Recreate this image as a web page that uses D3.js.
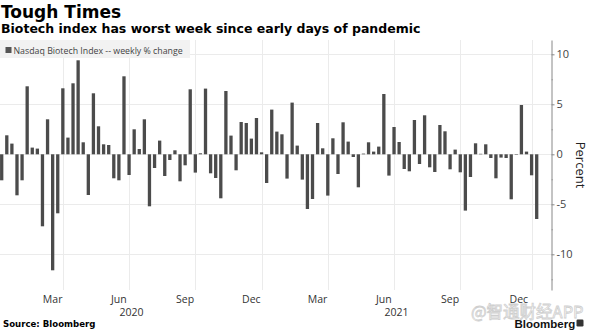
<!DOCTYPE html>
<html><head><meta charset="utf-8">
<script src="https://cdn.jsdelivr.net/npm/d3@7"></script>
<style>html,body{margin:0;padding:0;background:#fff;overflow:hidden}</style>
</head><body><svg id="c" width="589" height="331"></svg>
<script>
const title = "Tough Times";
const subtitle = "Biotech index has worst week since early days of pandemic";
const seriesName = "Nasdaq Biotech Index -- weekly % change";
// weekly % change, week ending Jan 10 2020 ... Jan 14 2022
const values = [
-2.6, 1.9, 1.07, -4.1, -2.6, 6.8, 0.67, 0.57, -7.2, 3.5,
-11.6, -5.9, 6.6, 1.67, 7.1, 9.4, 1.2, -4.07, 6.1, 2.8,
1.0, 0.93, -2.4, -2.6, 7.8, -2.07, 2.5, 0.53, 3.5, -5.2,
-1.37, 1.37, -2.17, -0.57, 0.4, -2.7, -1.1, 6.5, -1.83, 0.1,
6.57, -1.9, -2.37, -4.4, 6.33, 1.87, -1.6, 3.23, 3.13, 1.57,
3.63, 0.2, -2.87, 4.47, 2.27, 2.0, -2.43, 5.17, 0.87, -2.53,
-5.47, -4.47, 3.13, 0.6, -4.13, 1.6, -1.97, 3.2, 1.27, -0.27,
-3.3, 0.07, 1.2, 0.27, 0.77, 6.03, -2.13, 2.73, 1.23, -1.47,
-1.7, 3.43, -0.97, 3.9, -1.3, -1.77, 2.93, 2.3, -1.5, 0.47,
-1.8, -5.63, -2.27, 1.1, 0.05, 1.0, -0.37, -2.4, -0.33, -0.37,
-4.5, -0.05, 4.93, 0.27, -2.1, -6.47
];
const weeks = d3.timeFriday.range(new Date(2020,0,10), new Date(2022,0,15));
const monthLabels = ["Mar","Jun","Sep","Dec","Mar","Jun","Sep","Dec"];
const monthStarts = [[2020,2],[2020,5],[2020,8],[2020,11],[2021,2],[2021,5],[2021,8],[2021,11]];
const quarterStarts = [[2020,3],[2020,6],[2020,9],[2021,0],[2021,3],[2021,6],[2021,9],[2022,0]];
const yearLabels = ["2020","2021"];
const yTicks = [10,5,0,-5,-10];
const yMinorTicks = [7.5,2.5,-2.5,-7.5,-12.5];
const yLabel = "Percent";
const sourceText = "Source: Bloomberg";
const brandText = "Bloomberg";
const watermark = "@智通财经APP";

const svg = d3.select("#c");
svg.append("rect").attr("width",589).attr("height",331).attr("fill","#fff");

const x = d3.scaleTime().domain([weeks[0], weeks[weeks.length-1]]).range([1.7, 536.7]);
const y = d3.scaleLinear().domain([-13.57, 11.43]).range([290, 40]);
const axisX = 551.5;
const firstIdx = (yy,mm) => d3.bisectLeft(weeks, new Date(yy,mm,1));
const xi = i => x(weeks[i]);

// gridlines
const g = svg.append("g");
g.selectAll("line.h").data(yTicks).join("line")
  .attr("x1",0).attr("x2",axisX).attr("y1",d=>Math.round(y(d))+0.5).attr("y2",d=>Math.round(y(d))+0.5)
  .attr("stroke","#ebebeb").attr("stroke-width",1);
g.selectAll("line.v").data(quarterStarts).join("line")
  .attr("x1",d=>Math.round(xi(firstIdx(d[0],d[1])))+0.5).attr("x2",d=>Math.round(xi(firstIdx(d[0],d[1])))+0.5)
  .attr("y1",40).attr("y2",290)
  .attr("stroke","#ebebeb").attr("stroke-width",1);

// bars
svg.append("g").selectAll("rect").data(values).join("rect")
  .attr("x",(d,i)=>xi(i)-1.65).attr("width",3.3)
  .attr("y",d=>y(Math.max(0,d))).attr("height",d=>Math.abs(y(d)-y(0)))
  .attr("fill","#4b4b4b");

// y axis
const ya = svg.append("g").attr("transform",`translate(${axisX},0)`)
  .call(d3.axisRight(y).tickValues(yTicks).tickSize(3).tickSizeOuter(0).tickPadding(2).tickFormat(d=>d));
ya.select(".domain").attr("stroke","#888");
ya.selectAll(".tick line").attr("stroke","#888");
ya.selectAll("text").attr("font-family","Open Sans").attr("font-size",11).attr("fill","#444");
const ym = svg.append("g").attr("transform",`translate(${axisX},0)`)
  .call(d3.axisRight(y).tickValues(yMinorTicks).tickSize(1.5).tickFormat(""));
ym.select(".domain").remove();
ym.selectAll(".tick line").attr("stroke","#999");

svg.append("text").attr("transform",`translate(576,165) rotate(90)`)
  .attr("text-anchor","middle").attr("font-family","Open Sans").attr("font-size",13).attr("fill","#222")
  .text(yLabel);

// x labels
svg.append("g").selectAll("text").data(monthLabels).join("text")
  .attr("x",(d,i)=>{const s=monthStarts[i];const a=firstIdx(s[0],s[1]);const b=firstIdx(s[1]==11?s[0]+1:s[0],(s[1]+1)%12);return (xi(a)+xi(b))/2;})
  .attr("y",302.5).attr("text-anchor","middle")
  .attr("font-family","Open Sans").attr("font-size",10.5).attr("fill","#333").text(d=>d);
svg.append("g").selectAll("text").data(yearLabels).join("text")
  .attr("x",d=>{const yy=+d;return (xi(firstIdx(yy,0))+xi(firstIdx(yy+1,0)))/2;})
  .attr("y",315.5).attr("text-anchor","middle")
  .attr("font-family","Open Sans").attr("font-size",10.5).attr("fill","#333").text(d=>d);

// legend
svg.append("rect").attr("x",0).attr("y",40).attr("width",190).attr("height",18).attr("fill","#f2f2f2");
svg.append("rect").attr("x",5.5).attr("y",47).attr("width",6).attr("height",6).attr("fill","#555");
svg.append("text").attr("x",13.5).attr("y",53.5).attr("font-family","Open Sans").attr("font-size",8.8)
  .attr("fill","#444").text(seriesName);

// titles
svg.append("text").attr("x",1).attr("y",17.5).attr("font-family","DejaVu Sans").attr("font-weight","bold")
  .attr("font-size",17).attr("fill","#000").text(title);
svg.append("text").attr("x",1).attr("y",33).attr("font-family","DejaVu Sans").attr("font-weight","bold")
  .attr("font-size",12.5).attr("fill","#000").text(subtitle);

// footer
svg.append("text").attr("x",3).attr("y",326.5).attr("font-family","DejaVu Sans").attr("font-weight","bold")
  .attr("font-size",8.6).attr("fill","#000").text(sourceText);
svg.append("text").attr("x",471).attr("y",317.5).attr("font-family","Noto Sans CJK SC").attr("font-size",16.5)
  .attr("fill","#fff").attr("stroke","#cfcfcf").attr("stroke-width",0.8).text(watermark);
svg.append("text").attr("x",514.5).attr("y",328).attr("font-family","Liberation Sans").attr("font-weight","bold")
  .attr("font-size",11.5).attr("fill","#111").text(brandText);
svg.append("rect").attr("x",576.5).attr("y",319.5).attr("width",7).attr("height",7).attr("rx",1.2).attr("fill","#333");
</script></body></html>
